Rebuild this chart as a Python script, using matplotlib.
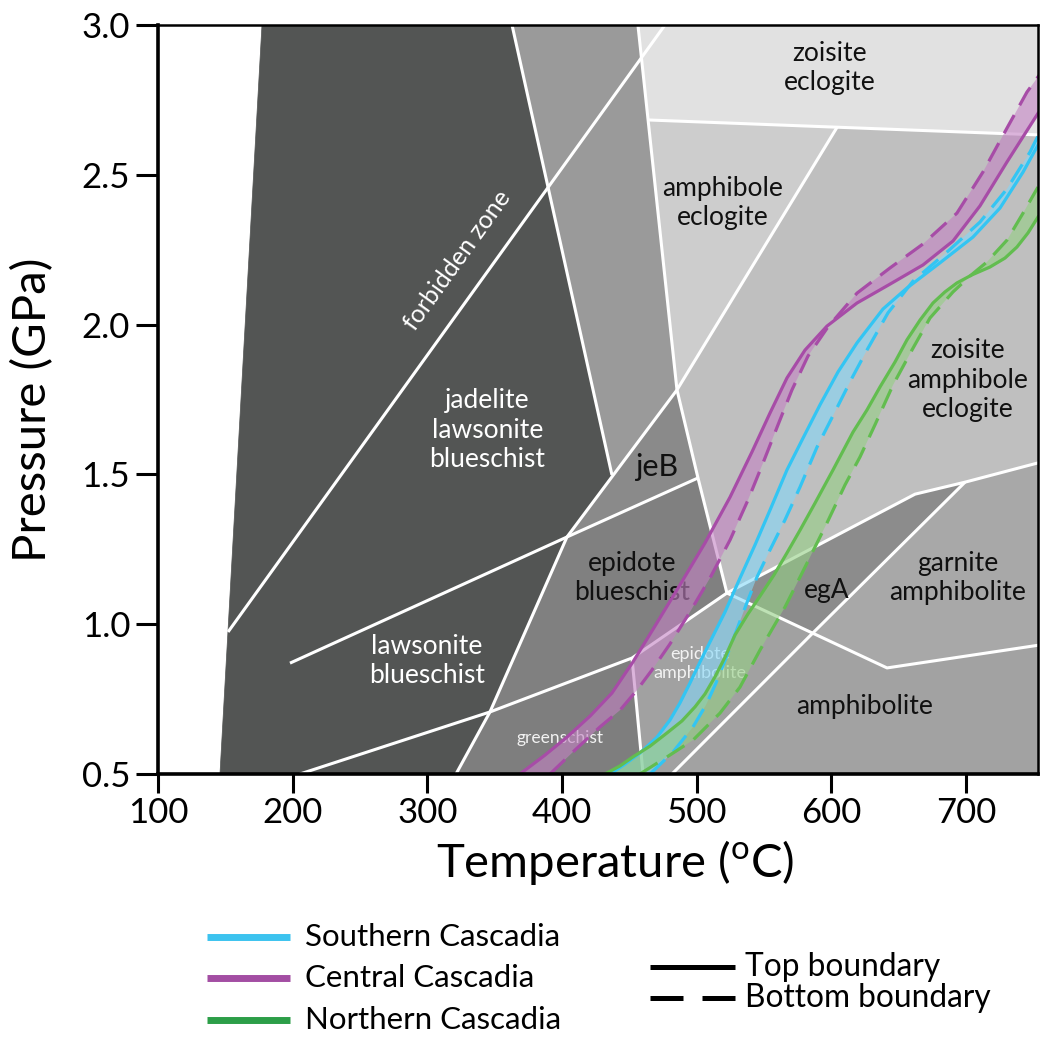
import matplotlib
matplotlib.use("Agg")
import matplotlib.pyplot as plt
from matplotlib.patches import Polygon
from matplotlib.lines import Line2D

plt.rcParams["font.family"] = ["Lato", "DejaVu Sans"]
plt.rcParams["mathtext.fontset"] = "custom"
plt.rcParams["mathtext.rm"] = "Lato"

# ---------------- axes ----------------
T_LIM = (100, 753.5)
P_LIM = (0.5, 3.0)
x_ticks = [100, 200, 300, 400, 500, 600, 700]
y_ticks = [0.5, 1.0, 1.5, 2.0, 2.5, 3.0]
y_tick_labels = ["0.5", "1.0", "1.5", "2.0", "2.5", "3.0"]

# ---------------- facies fields (T degC, P GPa) ----------------
jadeite_lawsonite_field = [(177.2, 3.0), (362.9, 3.0), (437.1, 1.498), (403.7, 1.291),
                           (346.5, 0.707), (321.3, 0.5), (146.0, 0.5)]
upper_gray_field = [(362.9, 3.0), (456.4, 3.0), (485.4, 1.782), (437.1, 1.498)]
zoisite_eclogite_field = [(456.4, 3.0), (760, 3.0), (760, 2.632), (463.9, 2.683)]
amphibole_eclogite_field = [(463.9, 2.683), (604.2, 2.658), (485.4, 1.782)]
zoisite_amph_eclogite_field = [(604.2, 2.658), (760, 2.632), (760, 1.546), (699.3, 1.474),
                               (662.2, 1.434), (522.5, 1.104), (501.0, 1.488), (485.4, 1.782)]
jeB_field = [(403.7, 1.291), (485.4, 1.782), (501.0, 1.488)]
epidote_blueschist_field = [(403.7, 1.291), (501.0, 1.488), (522.5, 1.104), (452.0, 0.887),
                            (346.5, 0.707)]
greenschist_field = [(346.5, 0.707), (452.0, 0.887), (460.2, 0.5), (321.3, 0.5)]
epidote_amphibolite_field = [(452.0, 0.887), (522.5, 1.104), (586.4, 0.971), (481.7, 0.5),
                             (460.2, 0.5)]
egA_field = [(522.5, 1.104), (662.2, 1.434), (699.3, 1.474), (586.4, 0.971)]
garnet_amphibolite_field = [(699.3, 1.474), (760, 1.546), (760, 0.934), (641.4, 0.854),
                            (586.4, 0.971)]
amphibolite_field = [(586.4, 0.971), (641.4, 0.854), (760, 0.934), (760, 0.5), (481.7, 0.5)]

fields = [
    (jadeite_lawsonite_field, "#535554"),
    (upper_gray_field, "#9a9a9a"),
    (zoisite_eclogite_field, "#e1e1e1"),
    (amphibole_eclogite_field, "#cdcdcd"),
    (zoisite_amph_eclogite_field, "#bfbfbf"),
    (jeB_field, "#8a8a8a"),
    (epidote_blueschist_field, "#808080"),
    (greenschist_field, "#7e7e7e"),
    (epidote_amphibolite_field, "#a1a1a1"),
    (egA_field, "#8c8c8c"),
    (garnet_amphibolite_field, "#a8a8a8"),
    (amphibolite_field, "#a2a2a2"),
]

# ---------------- facies boundaries ----------------
forbidden_zone_line = [(152.0, 0.974), (476.5, 3.0)]
jadeite_line = [(362.9, 3.0), (437.1, 1.498)]
lawsonite_epidote_line = [(321.3, 0.5), (346.5, 0.707), (403.7, 1.291), (485.4, 1.782), (604.2, 2.658)]
eclogite_left_line = [(456.4, 3.0), (485.4, 1.782), (501.0, 1.488), (522.5, 1.104)]
zoisite_line = [(463.9, 2.683), (760, 2.632)]
lawsonite_upper_line = [(198.0, 0.870), (403.7, 1.291), (501.0, 1.488)]
greenschist_upper_line = [(205.4, 0.5), (346.5, 0.707), (452.0, 0.887), (522.5, 1.104)]
greenschist_right_line = [(452.0, 0.887), (460.2, 0.5)]
garnet_upper_line = [(522.5, 1.104), (662.2, 1.434), (699.3, 1.474), (760, 1.546)]
garnet_lower_line = [(522.5, 1.104), (641.4, 0.854), (760, 0.934)]
amphibolite_left_line = [(699.3, 1.474), (586.4, 0.971), (481.7, 0.5)]
boundaries = [forbidden_zone_line, jadeite_line, lawsonite_epidote_line, eclogite_left_line,
              zoisite_line, lawsonite_upper_line, greenschist_upper_line, greenschist_right_line,
              garnet_upper_line, garnet_lower_line, amphibolite_left_line]

# ---------------- labels ----------------
labels = [
    ("zoisite\neclogite", 599.0, 2.856, "#111111", 19, 0),
    ("amphibole\neclogite", 519.6, 2.406, "#111111", 19, 0),
    ("zoisite\namphibole\neclogite", 701.5, 1.815, "#111111", 19, 0),
    ("jadelite\nlawsonite\nblueschist", 344.7, 1.648, "white", 19, 0),
    ("forbidden zone", 322.0, 2.216, "white", 18, 54.3),
    ("jeB", 470.6, 1.525, "#111111", 22, 0),
    ("epidote\nblueschist", 452.0, 1.154, "#111111", 19, 0),
    ("lawsonite\nblueschist", 299.8, 0.877, "white", 19, 0),
    ("greenschist", 398.5, 0.620, "#f2f2f2", 12.5, 0),
    ("epidote\namphibolite", 502.5, 0.870, "#f2f2f2", 13, 0),
    ("egA", 596.8, 1.114, "#111111", 19, 0),
    ("garnite\namphibolite", 694.1, 1.154, "#111111", 19, 0),
    ("amphibolite", 625.0, 0.724, "#111111", 19, 0),
]

# ---------------- Cascadia P-T paths ----------------
central_top_T = [368.8, 387.4, 403.7, 420.8, 437.1, 452.7, 469.1, 487.6, 506.2, 524.8, 541.1,
                 554.5, 567.1, 580.5, 596.8, 619.1, 643.6, 668.1, 690.4, 710.4, 730.5, 753.5]
central_top_P = [0.500, 0.563, 0.623, 0.693, 0.770, 0.874, 0.994, 1.131, 1.271, 1.424, 1.575,
                 1.705, 1.822, 1.915, 1.995, 2.072, 2.135, 2.199, 2.279, 2.396, 2.543, 2.705]
central_bot_T = [391.1, 409.7, 428.2, 443.1, 455.7, 466.8, 480.2, 495.1, 509.9, 524.8, 538.1,
                 549.3, 560.4, 570.8, 582.7, 597.5, 619.1, 643.6, 668.1, 693.3, 712.6, 730.5,
                 745.3, 755.0]
central_bot_P = [0.500, 0.580, 0.657, 0.713, 0.780, 0.847, 0.934, 1.041, 1.154, 1.281, 1.414,
                 1.538, 1.665, 1.782, 1.895, 1.992, 2.105, 2.189, 2.269, 2.372, 2.509, 2.656,
                 2.776, 2.836]

southern_top_T = [435.7, 446.8, 457.9, 470.6, 480.2, 487.6, 495.1, 502.5, 511.4, 521.1, 532.2,
                  543.3, 554.5, 567.1, 579.0, 591.6, 605.0, 619.1, 638.4, 656.2, 680.7, 705.2,
                  725.3, 742.4, 753.5]
southern_top_P = [0.500, 0.533, 0.570, 0.623, 0.680, 0.737, 0.804, 0.874, 0.954, 1.041, 1.154,
                  1.264, 1.381, 1.515, 1.621, 1.732, 1.842, 1.939, 2.052, 2.122, 2.206, 2.292,
                  2.389, 2.509, 2.599]
southern_bot_T = [465.4, 482.4, 497.3, 506.9, 514.4, 521.8, 529.2, 536.7, 544.8, 554.5, 565.6,
                  576.8, 589.4, 604.2, 615.4, 626.5, 642.1, 660.7, 685.9, 710.4, 730.5, 747.6,
                  755.0]
southern_bot_P = [0.500, 0.573, 0.657, 0.730, 0.804, 0.887, 0.974, 1.064, 1.157, 1.248, 1.348,
                  1.458, 1.591, 1.722, 1.822, 1.915, 2.039, 2.145, 2.242, 2.342, 2.453, 2.576,
                  2.643]

northern_top_T = [432.0, 443.1, 452.7, 465.4, 478.0, 489.1, 498.8, 506.2, 513.6, 521.1, 528.5,
                  538.1, 547.1, 557.4, 567.1, 576.8, 587.9, 601.3, 616.1, 626.5, 636.2, 647.3,
                  656.2, 665.9, 675.5, 684.4, 693.3, 704.5, 717.8, 729.0, 737.9, 746.1, 753.5]
northern_top_P = [0.500, 0.527, 0.557, 0.593, 0.637, 0.677, 0.724, 0.767, 0.824, 0.890, 0.964,
                  1.034, 1.094, 1.164, 1.238, 1.314, 1.404, 1.515, 1.641, 1.715, 1.792, 1.875,
                  1.949, 2.015, 2.072, 2.109, 2.139, 2.166, 2.192, 2.222, 2.259, 2.306, 2.359]
northern_bot_T = [457.9, 478.0, 497.3, 517.3, 532.2, 547.1, 565.6, 582.0, 596.8, 610.2, 621.3,
                  632.4, 645.8, 659.9, 673.3, 690.4, 703.0, 715.6, 730.5, 742.4, 753.5]
northern_bot_P = [0.500, 0.557, 0.613, 0.703, 0.790, 0.914, 1.057, 1.204, 1.338, 1.465, 1.558,
                  1.665, 1.798, 1.915, 2.022, 2.109, 2.162, 2.209, 2.282, 2.372, 2.459]

paths = [
    # name, top T, top P, bottom T, bottom P, line colour, fill colour
    ("Central", central_top_T, central_top_P, central_bot_T, central_bot_P, "#a74ca7", "#c382c3"),
    ("Southern", southern_top_T, southern_top_P, southern_bot_T, southern_bot_P, "#33c5f3", "#84d7f8"),
    ("Northern", northern_top_T, northern_top_P, northern_bot_T, northern_bot_P, "#62bd4f", "#94cf84"),
]

legend_series = [("Southern Cascadia", "#3cc3ef"), ("Central Cascadia", "#a34ea3"),
                 ("Northern Cascadia", "#2c9e48")]
legend_styles = [("Top boundary", "solid"), ("Bottom boundary", "dashed")]

# ---------------- figure ----------------
fig = plt.figure(figsize=(10.41, 10.41), dpi=100)
ax = fig.add_axes([0.1518, 0.2565, 0.8453, 0.7195])
ax.set_xlim(*T_LIM)
ax.set_ylim(*P_LIM)

for verts, col in fields:
    ax.add_patch(Polygon(verts, closed=True, facecolor=col, edgecolor=col, lw=0.5, zorder=1))

for line in boundaries:
    ts = [p[0] for p in line]
    ps = [p[1] for p in line]
    ax.plot(ts, ps, color="white", lw=2.2, solid_capstyle="butt", zorder=2)

for txt, t, p, col, size, rot in labels:
    ax.text(t, p, txt, color=col, fontsize=size, rotation=rot, ha="center", va="center",
            linespacing=1.22, zorder=3, rotation_mode="anchor")

for name, tt, tp, bt, bp, lc, fc in paths:
    poly = list(zip(tt, tp)) + list(zip(bt, bp))[::-1]
    ax.add_patch(Polygon(poly, closed=True, facecolor=fc, edgecolor="none", alpha=0.6, zorder=4))
for name, tt, tp, bt, bp, lc, fc in paths:
    ax.plot(tt, tp, color=lc, lw=2.3, zorder=5, solid_joinstyle="round")
    ax.plot(bt, bp, color=lc, lw=2.3, dashes=(6.5, 3.5), zorder=5, dash_joinstyle="round")

ax.set_xticks(x_ticks)
ax.set_yticks(y_ticks)
ax.set_yticklabels(y_tick_labels)
ax.tick_params(axis="both", direction="out", width=2.2, labelsize=25, colors="black")
ax.tick_params(axis="x", length=13.5, pad=3)
ax.tick_params(axis="y", length=16, pad=4)
for s in ["left", "bottom"]:
    ax.spines[s].set_linewidth(2.6)
for s in ["top", "right"]:
    ax.spines[s].set_linewidth(1.8)
for s in ax.spines.values():
    s.set_zorder(10)

ax.set_xlabel(r"Temperature ($^{\mathrm{o}}$C)", fontsize=34)
ax.set_ylabel("Pressure (GPa)", fontsize=34)
ax.xaxis.set_label_coords(0.52, -0.085)
ax.yaxis.set_label_coords(-0.118, 0.486)

# ---------------- legend (figure coordinates) ----------------
row_y = [0.0999, 0.0605, 0.0202]
for (lab, col), y in zip(legend_series, row_y):
    fig.add_artist(Line2D([0.1988, 0.2786], [y, y], color=col, lw=5, solid_capstyle="butt",
                          transform=fig.transFigure))
    fig.text(0.293, y, lab, fontsize=22.5, va="center", ha="left")

style_y = [0.0711, 0.0413]
for (lab, st), y in zip(legend_styles, style_y):
    kw = dict(color="black", lw=3.6, transform=fig.transFigure, solid_capstyle="butt",
              dash_capstyle="butt")
    ln = Line2D([0.6244, 0.7061], [y, y], **kw)
    if st == "dashed":
        ln.set_dashes((6.6, 3.8))
    fig.add_artist(ln)
    fig.text(0.7157, y, lab, fontsize=22.8, va="center", ha="left")

fig.savefig("out.png", dpi=100)
